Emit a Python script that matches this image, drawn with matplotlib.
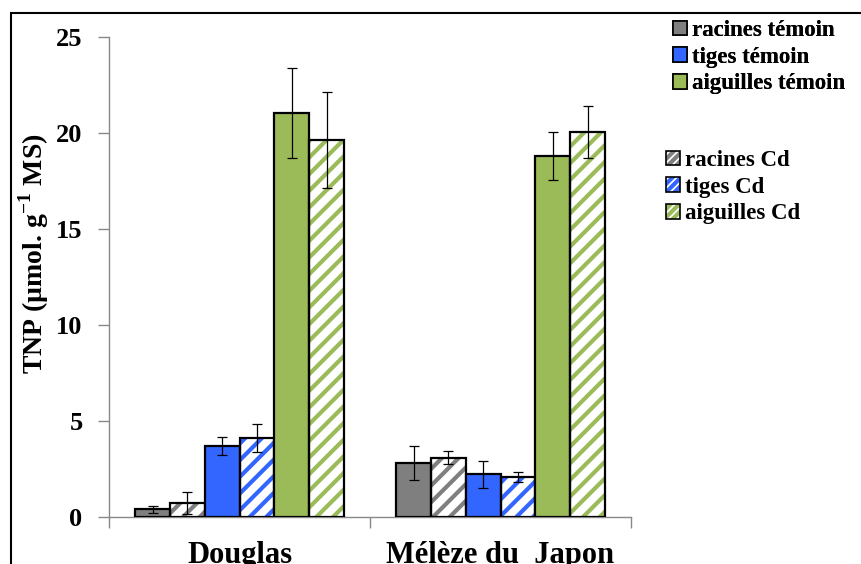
import numpy as np
import matplotlib.pyplot as plt
from matplotlib.patches import Patch, Rectangle
from matplotlib.legend_handler import HandlerTuple

# donnees TNP
especes = ['Douglas', 'Mélèze du  Japon']
series = ['racines témoin', 'racines Cd', 'tiges témoin', 'tiges Cd',
          'aiguilles témoin', 'aiguilles Cd']
douglas = [0.40, 0.73, 3.70, 4.11, 21.05, 19.65]
douglas_err = [0.17, 0.57, 0.48, 0.72, 2.35, 2.50]
meleze = [2.81, 3.09, 2.22, 2.08, 18.80, 20.05]
meleze_err = [0.90, 0.35, 0.71, 0.25, 1.25, 1.35]

couleurs = ['#7f7f7f', '#7f7f7f', '#3366ff', '#3366ff', '#9bbb59', '#9bbb59']
hachure = [False, True, False, True, False, True]

plt.rcParams['font.family'] = ['Liberation Serif', 'DejaVu Serif']
plt.rcParams['font.weight'] = 'bold'
plt.rcParams['hatch.linewidth'] = 3.0
plt.rcParams['mathtext.fontset'] = 'custom'
plt.rcParams['mathtext.rm'] = 'Liberation Serif:bold'
plt.rcParams['mathtext.bf'] = 'Liberation Serif:bold'

fig = plt.figure(figsize=(8.61, 5.64), dpi=100)
ax = fig.add_axes([109 / 861, 1 - 517 / 564, 522 / 861, 480 / 564])

x = np.arange(len(especes))
w = 0.8 / len(series)
for i in range(len(series)):
    vals = [douglas[i], meleze[i]]
    errs = [douglas_err[i], meleze_err[i]]
    pos = x - 0.4 + w * (i + 0.5)
    if hachure[i]:
        ax.bar(pos, vals, w, color='white', edgecolor=couleurs[i], hatch='//',
               linewidth=0, zorder=2)
        ax.bar(pos, vals, w, fill=False, edgecolor='black', linewidth=1.6, zorder=3)
    else:
        ax.bar(pos, vals, w, color=couleurs[i], edgecolor='black', linewidth=1.6, zorder=3)
    ax.errorbar(pos, vals, yerr=errs, fmt='none', ecolor='black', elinewidth=0.9,
                capsize=3.6, capthick=0.9, zorder=4)

ax.set_xlim(-0.5, 1.5)
ax.set_ylim(0, 25)
ax.set_yticks([0, 5, 10, 15, 20, 25])
ax.tick_params(axis='y', direction='out', length=8, color='#888888', width=1,
               pad=11, labelsize=19)
ax.set_xticks(x)
ax.set_xticklabels(especes, fontsize=22, fontweight='bold')
ax.set_xticks([-0.5, 0.5, 1.5], minor=True)
ax.tick_params(axis='x', which='major', length=0, pad=17)
ax.tick_params(axis='x', which='minor', length=8, color='#888888', width=1)
for s in ['top', 'right']:
    ax.spines[s].set_visible(False)
for s in ['left', 'bottom']:
    ax.spines[s].set_color('#888888')
    ax.spines[s].set_linewidth(1)

ax.set_ylabel('TNP (µmol. g$^{\\mathbf{-1}}$ MS)', fontsize=20, fontweight='bold')
ax.yaxis.set_label_coords(-0.111, 0.548)

# legendes
h1 = [Patch(facecolor=couleurs[i], edgecolor='black', linewidth=1.2) for i in (0, 2, 4)]
leg1 = fig.legend(h1, [series[i] for i in (0, 2, 4)], loc='upper left',
                  bbox_to_anchor=(673 / 861, 1 - 20 / 564), frameon=False,
                  fontsize=16.5, handlelength=0.6, handleheight=0.6,
                  handletextpad=0.25, labelspacing=0.25, borderpad=0,
                  borderaxespad=0)
h2 = [(Patch(facecolor='white', edgecolor=couleurs[i], hatch='////', linewidth=0),
       Patch(fill=False, edgecolor='black', linewidth=1.2)) for i in (1, 3, 5)]
leg2 = fig.legend(h2, [series[i] for i in (1, 3, 5)], loc='upper left',
                  bbox_to_anchor=(666 / 861, 1 - 150 / 564), frameon=False,
                  fontsize=16.5, handlelength=0.6, handleheight=0.6,
                  handletextpad=0.25, labelspacing=0.25, borderpad=0,
                  borderaxespad=0,
                  handler_map={tuple: HandlerTuple(ndivide=1, pad=0)})
fig.add_artist(leg1)

# cadre
cadre = Rectangle((11 / 861, -0.1), 1.1, 1.1 - 13 / 564, transform=fig.transFigure,
                  fill=False, edgecolor='black', linewidth=1.5)
fig.patches.append(cadre)

fig.savefig('out.png', dpi=100)
